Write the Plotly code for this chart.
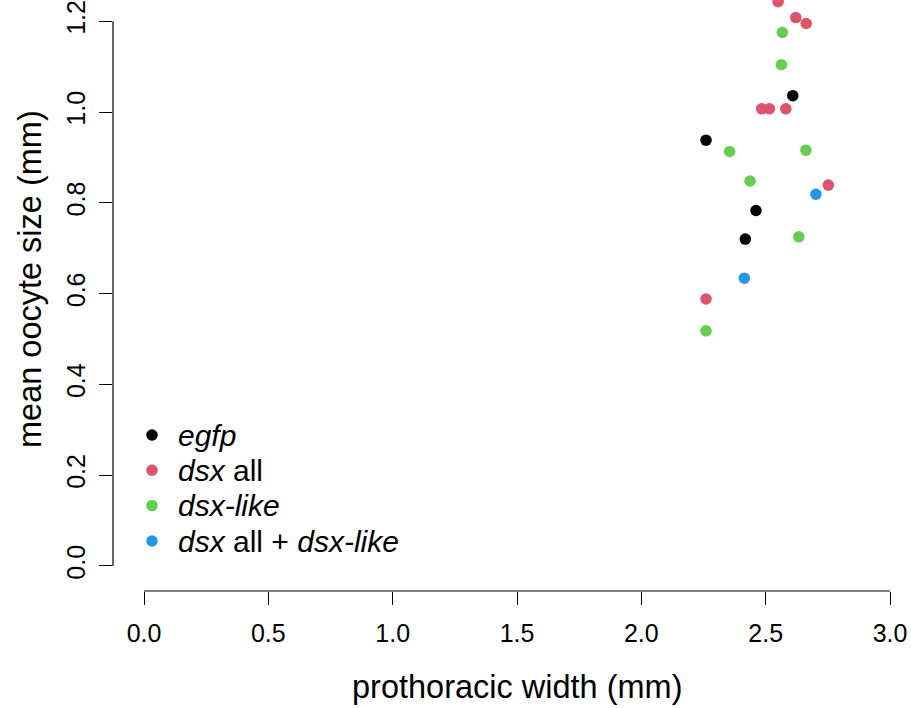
import plotly.graph_objects as go

# ---- data ----
egfp_x = [2.609, 2.260, 2.461, 2.418]
egfp_y = [1.036, 0.938, 0.783, 0.720]

dsx_x = [2.550, 2.621, 2.663, 2.484, 2.515, 2.581, 2.752, 2.260]
dsx_y = [1.243, 1.208, 1.195, 1.007, 1.007, 1.007, 0.839, 0.588]

dsxlike_x = [2.567, 2.563, 2.355, 2.662, 2.437, 2.633, 2.260]
dsxlike_y = [1.175, 1.104, 0.913, 0.916, 0.848, 0.725, 0.518]

both_x = [2.702, 2.414]
both_y = [0.819, 0.634]

series_names = ["<i>egfp</i>", "<i>dsx</i> all", "<i>dsx-like</i>",
                "<i>dsx</i> all + <i>dsx-like</i>"]
series_colors = ["#000000", "#DF536B", "#61D04F", "#2297E6"]

x_ticks = [0.0, 0.5, 1.0, 1.5, 2.0, 2.5, 3.0]
x_ticklabels = ["0.0", "0.5", "1.0", "1.5", "2.0", "2.5", "3.0"]
y_ticks = [0.0, 0.2, 0.4, 0.6, 0.8, 1.0, 1.2]
y_ticklabels = ["0.0", "0.2", "0.4", "0.6", "0.8", "1.0", "1.2"]

FONT = "Liberation Sans, Arial, Helvetica, sans-serif"

fig = go.Figure()
for xs, ys, name, col in zip([egfp_x, dsx_x, dsxlike_x, both_x],
                             [egfp_y, dsx_y, dsxlike_y, both_y],
                             series_names, series_colors):
    fig.add_trace(go.Scatter(
        x=xs, y=ys, mode="markers", name=name, showlegend=False,
        marker=dict(color=col, size=11.5, line=dict(width=0)),
    ))

W, H = 911, 708
ml, mr, mt, mb = 113, 0, 0, 117
pw = W - ml - mr
ph = H - mt - mb


def px_x(p):
    return (p - ml) / pw


def px_y(p):
    return (H - mb - p) / ph


fig.update_layout(
    width=W, height=H,
    margin=dict(l=ml, r=mr, t=mt, b=mb, pad=0),
    paper_bgcolor="white", plot_bgcolor="white",
    font=dict(family=FONT, color="black"),
    showlegend=False,
    xaxis=dict(
        range=[-0.1247, 3.0844], showgrid=False, zeroline=False,
        showline=False, ticks="outside", ticklen=13, tickwidth=1.2,
        tickcolor="black", tickvals=x_ticks, ticktext=x_ticklabels,
        tickfont=dict(size=25, family=FONT, color="black"),
        ticklabelstandoff=7, automargin=False,
    ),
    yaxis=dict(
        range=[-0.0551, 1.2467], showgrid=False, zeroline=False,
        showline=False, ticks="outside", ticklen=13, tickwidth=1.2,
        tickcolor="black", tickvals=y_ticks, ticktext=y_ticklabels,
        tickangle=-90,
        tickfont=dict(size=25, family=FONT, color="black"),
        ticklabelstandoff=4, automargin=False,
    ),
)

# R-style axis lines spanning only the tick range
fig.add_shape(type="line", xref="x", yref="paper", x0=x_ticks[0], x1=x_ticks[-1],
              y0=0, y1=0, line=dict(color="black", width=1.2))
fig.add_shape(type="line", xref="paper", yref="y", x0=0, x1=0,
              y0=y_ticks[0], y1=y_ticks[-1], line=dict(color="black", width=1.2))

# axis titles
fig.add_annotation(text="prothoracic width (mm)", xref="x", yref="paper",
                   x=1.5, y=px_y(687), yanchor="middle", xanchor="center",
                   showarrow=False, font=dict(size=32.5, family=FONT, color="black"))
fig.add_annotation(text="mean oocyte size (mm)", xref="paper", yref="paper",
                   x=px_x(30), y=px_y(279), xanchor="center",
                   yanchor="middle", textangle=-90,
                   showarrow=False, font=dict(size=32.5, family=FONT, color="black"))

# legend (R-style, bottom-left, no box)
leg_rows = [435, 470.3, 505.6, 541]
for name, col, ry in zip(series_names, series_colors, leg_rows):
    fig.add_shape(type="circle", xref="paper", yref="paper",
                  xsizemode="pixel", ysizemode="pixel",
                  xanchor=px_x(152), yanchor=px_y(ry),
                  x0=-5.75, x1=5.75, y0=-5.75, y1=5.75,
                  fillcolor=col, line=dict(width=0))
    fig.add_annotation(text=name, xref="paper", yref="paper",
                       x=px_x(176), y=px_y(ry), xanchor="left", yanchor="middle",
                       showarrow=False,
                       font=dict(size=30, family=FONT, color="black"))

fig.write_html("out.html", config={"displayModeBar": False},
               post_script="document.body.style.margin='0px';")
